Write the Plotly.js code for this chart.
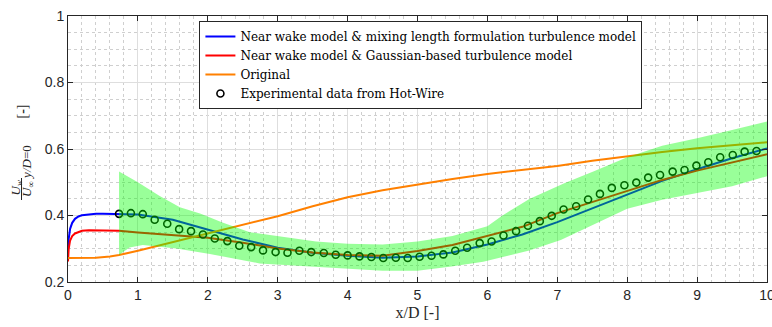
<!DOCTYPE html>
<html>
<head>
<meta charset="utf-8">
<script src="https://cdn.plot.ly/plotly-3.0.1.min.js"></script>
<style>html,body{margin:0;padding:0;background:#fff;}#chart{width:772px;height:327px;}</style>
</head>
<body>
<div id="chart"></div>
<script>
// ---- data ----
const blueX = [0, 0.01, 0.03, 0.06, 0.1, 0.15, 0.2, 0.3, 0.4, 0.5, 0.73, 1.0, 1.5, 2.0, 2.5, 3.0, 3.5, 4.0, 4.5, 5.0, 5.5, 6.0, 6.5, 7.0, 7.5, 8.0, 8.5, 9.0, 9.5, 10];
const blueY = [0.295, 0.33, 0.36, 0.378, 0.39, 0.397, 0.401, 0.404, 0.405, 0.405, 0.405, 0.403, 0.387, 0.358, 0.328, 0.303, 0.288, 0.279, 0.273, 0.277, 0.289, 0.313, 0.343, 0.380, 0.422, 0.464, 0.504, 0.539, 0.572, 0.602];

const redX = [0, 0.01, 0.03, 0.06, 0.1, 0.15, 0.2, 0.3, 0.5, 0.73, 1.0, 1.5, 2.0, 2.5, 3.0, 3.5, 4.0, 4.5, 5.0, 5.5, 6.0, 6.5, 7.0, 7.5, 8.0, 8.5, 9.0, 9.5, 10];
const redY = [0.262, 0.30, 0.325, 0.338, 0.346, 0.351, 0.354, 0.356, 0.356, 0.354, 0.349, 0.341, 0.333, 0.318, 0.301, 0.289, 0.281, 0.279, 0.293, 0.311, 0.338, 0.366, 0.407, 0.441, 0.475, 0.507, 0.535, 0.559, 0.584];

const origX = [0, 0.2, 0.4, 0.6, 0.73, 1.0, 1.5, 2.0, 2.5, 3.0, 3.5, 4.0, 4.5, 5.0, 5.5, 6.0, 6.5, 7.0, 7.5, 8.0, 8.5, 9.0, 9.5, 10];
const origY = [0.272, 0.272, 0.273, 0.277, 0.281, 0.294, 0.320, 0.348, 0.373, 0.398, 0.428, 0.455, 0.476, 0.494, 0.510, 0.525, 0.537, 0.549, 0.565, 0.579, 0.591, 0.602, 0.611, 0.620];

const expX = [0.73, 0.90, 1.07, 1.24, 1.42, 1.59, 1.76, 1.93, 2.10, 2.28, 2.45, 2.62, 2.79, 2.97, 3.14, 3.31, 3.48, 3.66, 3.83, 4.00, 4.17, 4.34, 4.51, 4.69, 4.86, 5.03, 5.20, 5.37, 5.54, 5.71, 5.89, 6.06, 6.23, 6.41, 6.58, 6.75, 6.92, 7.09, 7.27, 7.44, 7.61, 7.78, 7.96, 8.13, 8.30, 8.47, 8.65, 8.82, 8.99, 9.16, 9.33, 9.51, 9.68, 9.85];
const expY = [0.405, 0.407, 0.404, 0.387, 0.375, 0.359, 0.353, 0.343, 0.331, 0.323, 0.309, 0.305, 0.295, 0.290, 0.288, 0.294, 0.290, 0.287, 0.282, 0.280, 0.277, 0.275, 0.272, 0.273, 0.272, 0.276, 0.279, 0.283, 0.294, 0.303, 0.317, 0.322, 0.340, 0.353, 0.369, 0.383, 0.399, 0.418, 0.428, 0.448, 0.465, 0.483, 0.491, 0.499, 0.514, 0.522, 0.532, 0.537, 0.550, 0.560, 0.575, 0.582, 0.592, 0.594];

const bandUpperX = [0.73, 1.0, 1.3, 1.6, 1.9, 2.2, 2.6, 3.1, 3.55, 4.0, 4.5, 5.0, 5.5, 6.0, 6.2, 6.6, 7.1, 7.55, 8.0, 8.5, 9.0, 9.5, 10];
const bandUpperY = [0.532, 0.50, 0.46, 0.425, 0.405, 0.38, 0.35, 0.336, 0.322, 0.315, 0.313, 0.322, 0.338, 0.368, 0.398, 0.450, 0.497, 0.535, 0.575, 0.61, 0.632, 0.657, 0.683];
const bandLowerX = [0.73, 0.88, 1.07, 1.55, 2.03, 2.5, 2.74, 3.1, 3.55, 4.03, 4.5, 5.0, 5.46, 5.94, 6.3, 6.6, 7.05, 7.55, 8.0, 8.5, 9.0, 9.5, 10];
const bandLowerY = [0.281, 0.304, 0.311, 0.301, 0.284, 0.266, 0.256, 0.251, 0.246, 0.239, 0.234, 0.234, 0.246, 0.261, 0.28, 0.295, 0.326, 0.375, 0.42, 0.447, 0.468, 0.488, 0.518];

const seriesNames = [
  "Near wake model &amp; mixing length formulation turbulence model",
  "Near wake model &amp; Gaussian-based turbulence model",
  "Original",
  "Experimental data from Hot-Wire"
];

// ---- traces ----
const bandX = bandUpperX.concat(bandLowerX.slice().reverse());
const bandY = bandUpperY.concat(bandLowerY.slice().reverse());

const traces = [
  {x: blueX, y: blueY, type: 'scatter', mode: 'lines', name: seriesNames[0],
   line: {color: '#0000ff', width: 2}},
  {x: redX, y: redY, type: 'scatter', mode: 'lines', name: seriesNames[1],
   line: {color: '#ff0000', width: 2}},
  {x: origX, y: origY, type: 'scatter', mode: 'lines', name: seriesNames[2],
   line: {color: '#ff8000', width: 2}},
  {x: expX, y: expY, type: 'scatter', mode: 'markers', name: seriesNames[3],
   marker: {symbol: 'circle-open', size: 7, color: '#000000', line: {width: 1.6, color: '#000000'}}},
  {x: bandX, y: bandY, type: 'scatter', mode: 'lines', fill: 'toself',
   fillcolor: 'rgba(0,255,0,0.4)', line: {width: 0}, showlegend: false, hoverinfo: 'skip'}
];

const axisCommon = {
  showline: true, linecolor: '#262626', linewidth: 1, mirror: 'ticks',
  ticks: 'inside', ticklen: 5, tickwidth: 1, tickcolor: '#262626',
  showgrid: true, gridcolor: '#dedede', gridwidth: 1, zeroline: false,
  ticklabeloverflow: 'allow',
  tickfont: {family: 'Liberation Sans, Arial, sans-serif', size: 14, color: '#262626'}
};

const serif = "'DejaVu Serif', 'Liberation Serif', serif";

const layout = {
  width: 772, height: 327,
  margin: {l: 68, r: 5, t: 16, b: 45},
  paper_bgcolor: '#ffffff', plot_bgcolor: '#ffffff',
  showlegend: true,
  legend: {
    x: 0.188, y: 0.981, xanchor: 'left', yanchor: 'top',
    bgcolor: '#ffffff', bordercolor: '#262626', borderwidth: 1,
    font: {family: serif, size: 12, color: '#000000'},
    itemwidth: 30, tracegroupgap: 0
  },
  xaxis: Object.assign({}, axisCommon, {
    range: [0, 10], dtick: 1, tick0: 0,
    minor: {dtick: 0.2, showgrid: true, gridcolor: '#cfcfcf', griddash: 'dot', gridwidth: 1},
    title: {text: 'x/D [-]', font: {family: 'Liberation Serif, serif', size: 16, color: '#262626'}, standoff: 5}
  }),
  yaxis: Object.assign({}, axisCommon, {
    range: [0.2, 1], dtick: 0.2, tick0: 0.2,
    minor: {dtick: 0.05, showgrid: true, gridcolor: '#cfcfcf', griddash: 'dot', gridwidth: 1}
  }),
  annotations: [
    {xref: 'paper', yref: 'paper', x: (15.5 - 68) / 699, y: (282 - 188) / 266, xanchor: 'center', yanchor: 'middle',
     text: '<i>U<sub>w</sub></i>', textangle: -90, showarrow: false,
     font: {family: 'Liberation Serif, serif', size: 13, color: '#262626'}},
    {xref: 'paper', yref: 'paper', x: (28 - 68) / 699, y: (282 - 171) / 266, xanchor: 'center', yanchor: 'middle',
     text: '<i>U</i><sub>∞</sub> <i>y/D</i>=0', textangle: -90, showarrow: false,
     font: {family: 'Liberation Serif, serif', size: 13, color: '#262626'}},
    {xref: 'paper', yref: 'paper', x: (21.5 - 68) / 699, y: (282 - 112) / 266, xanchor: 'center', yanchor: 'middle',
     text: '[<b>-</b>]', textangle: -90, showarrow: false,
     font: {family: 'Liberation Serif, serif', size: 14, color: '#262626'}}
  ],
  shapes: [
    {type: 'line', xref: 'paper', yref: 'paper',
     x0: (21.5 - 68) / 699, x1: (21.5 - 68) / 699, y0: (282 - 178) / 266, y1: (282 - 200) / 266,
     line: {color: '#262626', width: 1}}
  ]
};

Plotly.newPlot('chart', traces, layout, {staticPlot: true, displayModeBar: false});
</script>
</body>
</html>
